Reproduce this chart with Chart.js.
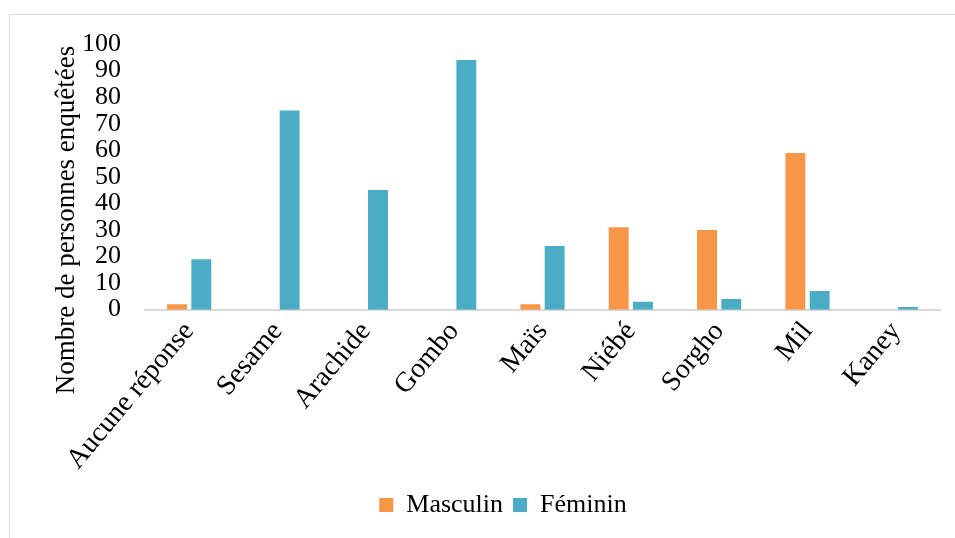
<!DOCTYPE html>
<html>
<head>
<meta charset="utf-8">
<script src="https://cdn.jsdelivr.net/npm/chart.js@4/dist/chart.umd.min.js"></script>
<style>
  html, body { margin: 0; padding: 0; background: #fff; }
  #wrap { position: relative; width: 955px; height: 538px; overflow: hidden; }
  #frame { position: absolute; left: 9px; top: 14px; width: 960px; height: 540px;
           border: 1px solid #d9d9d9; box-sizing: border-box; }
  #chart { position: absolute; left: 0; top: 0; }
</style>
</head>
<body>
<div id="wrap">
  <div id="frame"></div>
  <canvas id="chart" width="955" height="538"></canvas>
</div>
<script>
// categories and series
var categories = ['Aucune réponse', 'Sesame', 'Arachide', 'Gombo', 'Maïs', 'Niébé', 'Sorgho', 'Mil', 'Kaney'];
var masculin = [2, 0, 0, 0, 2, 31, 30, 59, 0];
var feminin = [19, 75, 45, 94, 24, 3, 4, 7, 1];
var yTicks = [0, 10, 20, 30, 40, 50, 60, 70, 80, 90, 100];
var yTitle = 'Nombre de personnes enquêtées';

var serif = "'Liberation Serif', 'Times New Roman', serif";

// y axis title, drawn beside the axis a bit lower than centre like the original
var yTitlePlugin = {
  id: 'yTitle',
  afterDraw: function (chart) {
    var c = chart.ctx;
    c.save();
    c.translate(67, 220);
    c.rotate(-Math.PI / 2);
    c.font = '27px ' + serif;
    c.fillStyle = '#000';
    c.textAlign = 'center';
    c.textBaseline = 'middle';
    c.fillText(yTitle, 0, 0);
    c.restore();
  }
};

var ctx = document.getElementById('chart').getContext('2d');
var chart = new Chart(ctx, {
  type: 'bar',
  data: {
    labels: categories,
    datasets: [
      { label: 'Masculin', data: masculin, backgroundColor: '#F79646',
        categoryPercentage: 0.55, barPercentage: 0.82 },
      { label: 'Féminin', data: feminin, backgroundColor: '#4BACC6',
        categoryPercentage: 0.55, barPercentage: 0.82 }
    ]
  },
  options: {
    responsive: false,
    animation: false,
    layout: { padding: { left: 66, right: 15, top: 44, bottom: 10 } },
    plugins: {
      tooltip: { enabled: false },
      legend: {
        position: 'bottom',
        labels: {
          color: '#000',
          font: { family: serif, size: 26 },
          boxWidth: 14, boxHeight: 14, padding: 10
        }
      }
    },
    scales: {
      x: {
        grid: { display: false, drawTicks: false },
        border: { display: true, color: '#d9d9d9', width: 2 },
        ticks: {
          color: '#000', font: { family: serif, size: 28 },
          minRotation: 50, maxRotation: 50, padding: 6, autoSkip: false
        }
      },
      y: {
        min: 0, max: 100,
        afterBuildTicks: function (axis) {
          axis.ticks = yTicks.map(function (v) { return { value: v }; });
        },
        grid: { display: false },
        border: { display: false },
        ticks: { color: '#000', font: { family: serif, size: 26 }, padding: 16, autoSkip: false }
      }
    }
  },
  plugins: [yTitlePlugin]
});
</script>
</body>
</html>
